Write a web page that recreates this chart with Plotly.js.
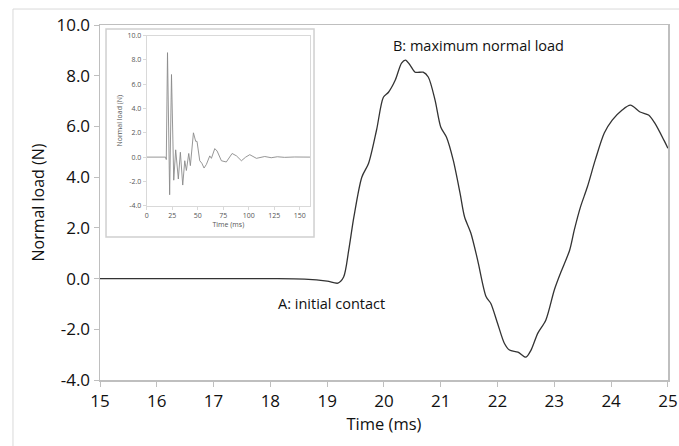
<!DOCTYPE html>
<html>
<head>
<meta charset="utf-8">
<script src="https://cdn.plot.ly/plotly-3.0.1.min.js"></script>
<style>html,body{margin:0;padding:0;background:#fff;}#chart{width:679px;height:446px;}</style>
</head>
<body>
<div id="chart"></div>
<script>
// Main chart: normal load vs time, 15–25 ms
const timeMain = [15, 18.0, 18.6, 19.0, 19.19, 19.29, 19.38, 19.47, 19.61, 19.73, 19.87, 19.99, 20.08, 20.2, 20.31, 20.38, 20.46, 20.55, 20.69, 20.78, 20.9, 21.0, 21.1, 21.22, 21.34, 21.42, 21.53, 21.65, 21.8, 21.88, 22.0, 22.12, 22.21, 22.36, 22.5, 22.59, 22.71, 22.85, 23.0, 23.11, 23.27, 23.35, 23.46, 23.58, 23.72, 23.88, 24.02, 24.19, 24.34, 24.51, 24.66, 24.77, 24.93, 25.0];
const loadMain = [0, 0, -0.02, -0.1, -0.18, 0.06, 1.12, 2.42, 4.0, 4.55, 5.86, 7.15, 7.35, 7.83, 8.5, 8.62, 8.42, 8.14, 8.14, 7.95, 7.04, 5.98, 5.58, 4.67, 3.37, 2.43, 1.8, 0.73, -0.72, -0.97, -1.76, -2.55, -2.82, -2.9, -3.1, -2.82, -2.15, -1.64, -0.45, 0.22, 1.12, 1.9, 2.82, 3.6, 4.67, 5.74, 6.25, 6.64, 6.84, 6.57, 6.45, 6.13, 5.46, 5.14];

// Inset: full record 0–160 ms
const timeInset = [0, 18.5, 19.2, 20.4, 22.5, 24.3, 26.5, 28.4, 31, 33, 35.3, 37.3, 38.9, 41.2, 42.8, 45.8, 48, 49.3, 52, 54, 56.2, 58.5, 61.8, 63.4, 66.7, 69, 73.2, 78, 83.7, 88, 92.8, 97, 101, 107.5, 115.7, 122, 128, 135, 145, 160];
const loadInset = [0, 0, -0.2, 8.6, -3.1, 6.8, -1.9, 0.6, -1.8, 0.4, -2.3, -0.3, -1.1, 0.3, -0.7, 2.0, 1.3, 1.3, -0.3, -0.5, -0.9, -0.6, 0.1, -0.1, 0.7, 0.5, -0.3, -0.4, 0.3, 0.1, -0.3, 0, 0.2, -0.1, 0.05, -0.05, 0.03, -0.02, 0.01, 0];

const yTickVals = [-4, -2, 0, 2, 4, 6, 8, 10];
const yTickText = ['-4.0', '-2.0', '0.0', '2.0', '4.0', '6.0', '8.0', '10.0'];
const xTickMain = [15, 16, 17, 18, 19, 20, 21, 22, 23, 24, 25];
const xTickInset = [0, 25, 50, 75, 100, 125, 150];

const labelA = 'A: initial contact';
const labelB = 'B: maximum normal load';
const xTitle = 'Time (ms)';
const yTitle = 'Normal load (N)';

const FONT = '"Open Sans", sans-serif';
const TXT = '#111';

const traces = [
  {x: timeMain, y: loadMain, type: 'scatter', mode: 'lines', xaxis: 'x', yaxis: 'y',
   line: {color: '#333', width: 1.3, shape: 'spline', smoothing: 0.8}, hoverinfo: 'none', cliponaxis: false},
  {x: timeInset, y: loadInset, type: 'scatter', mode: 'lines', xaxis: 'x2', yaxis: 'y2',
   line: {color: '#8a8a8a', width: 0.9}, hoverinfo: 'none'}
];

const layout = {
  width: 679, height: 446,
  margin: {l: 100, r: 11, t: 25, b: 66},
  paper_bgcolor: '#fff', plot_bgcolor: 'rgba(0,0,0,0)',
  showlegend: false,
  font: {family: FONT, color: TXT},
  xaxis: {
    range: [15, 25.002], tickvals: xTickMain, ticktext: xTickMain.map(String), ticklabeloverflow: 'allow',
    showgrid: false, zeroline: false, showline: true, linecolor: '#bfbfbf', linewidth: 1.5, mirror: true,
    ticks: 'outside', ticklen: 5, tickcolor: '#bfbfbf', tickfont: {size: 17, family: FONT, color: TXT},
    title: {text: xTitle, font: {size: 16.5, family: FONT, color: TXT}, standoff: 4},
    domain: [0, 1], anchor: 'y'
  },
  yaxis: {
    range: [-4, 10.002], tickvals: yTickVals, ticktext: yTickText,
    showgrid: false, zeroline: false, showline: true, linecolor: '#bfbfbf', linewidth: 1.5, mirror: true,
    ticks: 'outside', ticklen: 5, tickcolor: '#bfbfbf', tickfont: {size: 17, family: FONT, color: TXT},
    title: {text: yTitle, font: {size: 16, family: FONT, color: TXT}, standoff: 8},
    domain: [0, 1], anchor: 'x'
  },
  xaxis2: {
    range: [0, 160], tickvals: xTickInset, ticktext: xTickInset.map(String),
    showgrid: false, zeroline: false, showline: true, linecolor: '#d9d9d9', linewidth: 1, mirror: true,
    ticks: 'outside', ticklen: 3, tickcolor: '#d9d9d9', tickfont: {size: 7, family: FONT, color: '#555'},
    title: {text: xTitle, font: {size: 7, family: FONT, color: '#555'}, standoff: 2},
    domain: [0.0822, 0.3697], anchor: 'y2'
  },
  yaxis2: {
    range: [-4, 10], tickvals: yTickVals, ticktext: yTickText,
    showgrid: false, zeroline: false, showline: true, linecolor: '#d9d9d9', linewidth: 1, mirror: true,
    ticks: 'outside', ticklen: 3, tickcolor: '#d9d9d9', tickfont: {size: 7, family: FONT, color: '#555'},
    title: {text: yTitle, font: {size: 7, family: FONT, color: '#555'}, standoff: 3},
    domain: [0.491, 0.970], anchor: 'x2'
  },
  shapes: [
    {type: 'rect', xref: 'paper', yref: 'paper', x0: -0.1532, x1: 1.05, y0: -0.25, y1: 1.045,
     line: {color: '#d9d9d9', width: 1}, fillcolor: 'rgba(0,0,0,0)', layer: 'below'},
    {type: 'rect', xref: 'paper', yref: 'paper', x0: 0.0106, x1: 0.3768, y0: 0.4028, y1: 0.9887,
     line: {color: '#d0d0d0', width: 1.5}, fillcolor: '#fff', layer: 'below'}
  ],
  annotations: [
    {text: labelB, xref: 'x', yref: 'y', x: 21.67, y: 9.21, showarrow: false, font: {size: 14.5, family: FONT, color: TXT}},
    {text: labelA, xref: 'x', yref: 'y', x: 19.07, y: -1.0, showarrow: false, font: {size: 14.5, family: FONT, color: TXT}}
  ]
};

Plotly.newPlot('chart', traces, layout, {displayModeBar: false, staticPlot: true});
</script>
</body>
</html>
